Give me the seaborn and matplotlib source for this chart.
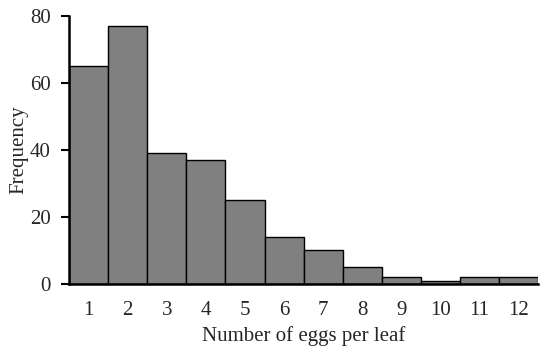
import matplotlib
matplotlib.use("Agg")
import matplotlib.pyplot as plt
import seaborn as sns
import pandas as pd
import numpy as np

eggs = ["1", "2", "3", "4", "5", "6", "7", "8", "9", "10", "11", "12"]
frequency = [65, 77, 39, 37, 25, 14, 10, 5, 2, 1, 2, 2]
y_ticks = [0, 20, 40, 60, 80]

sns.set_style("white")
plt.rcParams["font.family"] = ["Liberation Serif", "DejaVu Serif"]

df = pd.DataFrame({"eggs": eggs, "freq": frequency})

fig = plt.figure(figsize=(5.5, 3.54), dpi=100)
ax = fig.add_axes([0.1255, 0.198, 0.853, 0.757])
sns.barplot(data=df, x="eggs", y="freq", order=eggs, color="#808080",
            width=1.0, edgecolor="black", linewidth=1.0, saturation=1, ax=ax)
for p in ax.patches:
    p.set_facecolor("#808080")

n = len(eggs)
ax.set_xlim(-0.5, n - 0.5)
ax.set_ylim(0, 80)
ax.set_yticks(y_ticks)
ax.set_yticklabels([str(v) for v in y_ticks], fontsize=15)
ax.set_xticks(np.arange(n + 1) - 0.5)
ax.set_xticklabels([])
ax.set_xticks(np.arange(n), minor=True)
ax.set_xticklabels(eggs, minor=True, fontsize=15)
ax.tick_params(axis="x", which="major", direction="out", length=6, width=1.5, color="black")
ax.tick_params(axis="x", which="minor", length=0, pad=12)
ax.tick_params(axis="y", direction="out", length=6, width=1.5, color="black", left=True, pad=7)

for s in ["top", "right"]:
    ax.spines[s].set_visible(False)
for s in ["left", "bottom"]:
    ax.spines[s].set_color("black")
    ax.spines[s].set_linewidth(1.8)

ax.set_xlabel("Number of eggs per leaf", fontsize=15, labelpad=5)
ax.set_ylabel("Frequency", fontsize=15, labelpad=1)

fig.savefig("out.png", dpi=100)
